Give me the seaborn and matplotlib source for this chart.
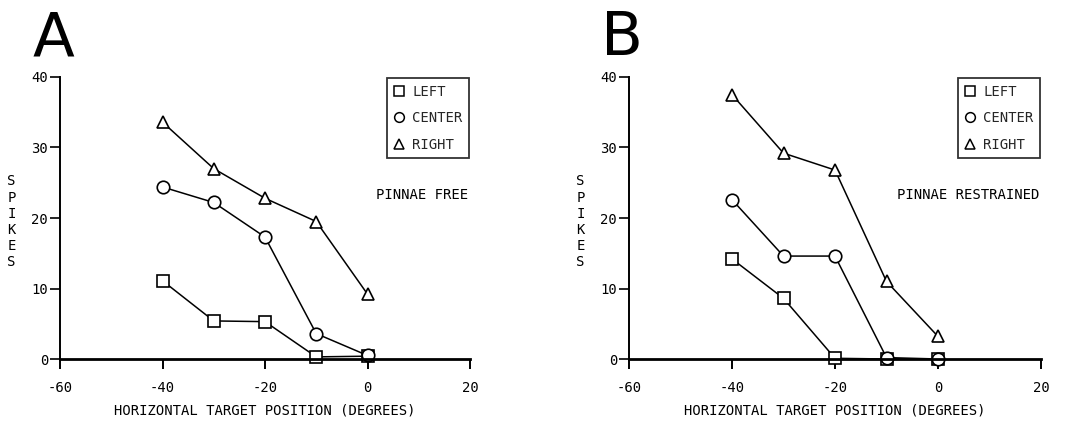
import matplotlib
matplotlib.use("Agg")
import matplotlib.pyplot as plt
from matplotlib.lines import Line2D
import pandas as pd
import seaborn as sns

# Horizontal target positions (degrees)
positions = [-40, -30, -20, -10, 0]
conditions = ["LEFT", "CENTER", "RIGHT"]

# Spike counts, pinnae free
free_left = [11.1, 5.4, 5.3, 0.3, 0.4]
free_center = [24.4, 22.2, 17.3, 3.6, 0.5]
free_right = [33.6, 27.0, 22.8, 19.5, 9.2]

# Spike counts, pinnae restrained
restr_left = [14.2, 8.6, 0.1, 0.0, 0.0]
restr_center = [22.6, 14.6, 14.6, 0.2, 0.0]
restr_right = [37.5, 29.2, 26.8, 11.0, 3.2]

x_ticks = [-60, -40, -20, 0, 20]
y_ticks = [0, 10, 20, 30, 40]


def to_frame(left, center, right):
    rows = []
    for name, vals in zip(conditions, [left, center, right]):
        for p, v in zip(positions, vals):
            rows.append({"position": p, "spikes": v, "condition": name})
    return pd.DataFrame(rows)


sns.set_theme(style="white")
plt.rcParams["font.family"] = ["DejaVu Sans Mono"]

marker_map = {"LEFT": "s", "CENTER": "o", "RIGHT": "^"}
palette = {c: "black" for c in conditions}

fig = plt.figure(figsize=(10.74, 4.23), dpi=100)
ax_a = fig.add_axes([60 / 1074, 1 - 359 / 423, 410 / 1074, 282 / 423])
ax_b = fig.add_axes([629 / 1074, 1 - 359 / 423, 412 / 1074, 282 / 423])

panels = [
    (ax_a, to_frame(free_left, free_center, free_right), "PINNAE FREE", "A", 33),
    (ax_b, to_frame(restr_left, restr_center, restr_right), "PINNAE RESTRAINED", "B", 601),
]

for ax, df, note, letter, letter_x in panels:
    sns.lineplot(
        data=df, x="position", y="spikes", hue="condition", style="condition",
        hue_order=conditions, style_order=conditions, palette=palette,
        markers=marker_map, dashes=False, ax=ax, legend=False,
        linewidth=1.1, markersize=9, markerfacecolor="white",
        markeredgecolor="black", markeredgewidth=1.2, clip_on=False,
    )
    ax.set_xlim(-60, 20)
    ax.set_ylim(0, 40)
    ax.set_xticks(x_ticks)
    ax.set_yticks(y_ticks)
    ax.set_xticklabels([str(t) for t in x_ticks])
    ax.set_yticklabels([str(t) for t in y_ticks])
    for side in ("top", "right"):
        ax.spines[side].set_visible(False)
    ax.spines["left"].set_linewidth(1.4)
    ax.spines["bottom"].set_linewidth(2.0)
    ax.spines["left"].set_color("black")
    ax.spines["bottom"].set_color("black")
    ax.tick_params(axis="x", direction="out", length=7, width=1.4, pad=9,
                   labelsize=10, colors="black", bottom=True)
    ax.tick_params(axis="y", direction="out", length=7, width=1.2, pad=1.5,
                   labelsize=10, colors="black", left=True)
    ax.set_xlabel("HORIZONTAL TARGET POSITION (DEGREES)", fontsize=10,
                  labelpad=6, color="black")
    ax.set_ylabel("\n".join("SPIKES"), rotation=0, fontsize=10,
                  ha="center", va="center", linespacing=1.2, color="black")
    ax.yaxis.set_label_coords(-0.118, 0.486)

    handles = [
        Line2D([], [], linestyle="none", marker=marker_map[c], markersize=7,
               markerfacecolor="white", markeredgecolor="black",
               markeredgewidth=1.1)
        for c in conditions
    ]
    leg = ax.legend(handles, conditions, loc="upper right", fontsize=10,
                    frameon=True, fancybox=False, borderaxespad=0.1,
                    handlelength=0.8, handletextpad=0.55, labelspacing=0.9,
                    borderpad=0.45)
    leg.get_frame().set_edgecolor("black")
    leg.get_frame().set_linewidth(1.3)

    ax.text(0.995, 0.58, note, transform=ax.transAxes, ha="right",
            va="center", fontsize=10, color="black")

    fig.text(letter_x / 1074, 1 - 55 / 423, letter, fontsize=44,
             family="DejaVu Sans", ha="left", va="baseline", color="black")

fig.savefig("out.png", dpi=100, facecolor="white")
